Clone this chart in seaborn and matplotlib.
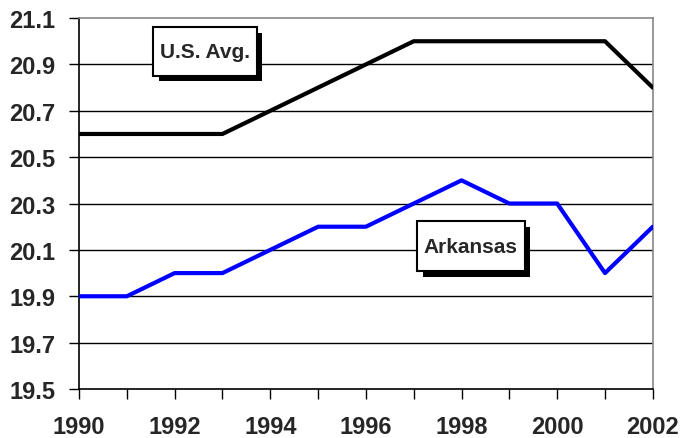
import seaborn as sns
import pandas as pd
import numpy as np
import matplotlib.pyplot as plt
import matplotlib.patheffects as pe
from matplotlib.patches import Rectangle

years = list(range(1990, 2003))
us_avg = [20.6, 20.6, 20.6, 20.6, 20.7, 20.8, 20.9, 21.0, 21.0, 21.0, 21.0, 21.0, 20.8]
arkansas = [19.9, 19.9, 20.0, 20.0, 20.1, 20.2, 20.2, 20.3, 20.4, 20.3, 20.3, 20.0, 20.2]
yticks = [19.5, 19.7, 19.9, 20.1, 20.3, 20.5, 20.7, 20.9, 21.1]

sns.set_style("white")
plt.rcParams['font.family'] = ['Liberation Sans', 'DejaVu Sans']

df = pd.DataFrame({'year': years + years,
                   'score': us_avg + arkansas,
                   'group': ['U.S. Avg.'] * len(years) + ['Arkansas'] * len(years)})

fig = plt.figure(figsize=(6.93, 4.39), dpi=100)
ax = fig.add_axes([0.114, 0.1116, 0.828, 0.845])

# gridlines first so the lines sit on top
for y in yticks[1:-1]:
    ax.axhline(y, color='black', lw=1.0, zorder=1)

sns.lineplot(data=df, x='year', y='score', hue='group',
             palette={'U.S. Avg.': 'black', 'Arkansas': '#0000ff'},
             lw=3.0, legend=False, ax=ax, zorder=3)

ax.set_xlim(1990, 2002)
ax.set_ylim(19.5, 21.1)
ax.set_xticks(years)
ax.set_xticklabels([str(y) if y % 2 == 0 else '' for y in years])
ax.set_yticks(yticks)
ax.set_yticklabels([f'{v:.1f}' for v in yticks])
ax.tick_params(axis='x', bottom=True, labelsize=17, direction='out', length=7, width=1,
               color='black', pad=12)
ax.tick_params(axis='y', left=True, labelsize=17, direction='out', length=7, width=1,
               color='black', pad=10)
for lab in ax.get_xticklabels() + ax.get_yticklabels():
    lab.set_fontweight('bold')
ax.set_xlabel('')
ax.set_ylabel('')

ax.spines['left'].set_color('black')
ax.spines['bottom'].set_color('black')
ax.spines['top'].set_color('#888888')
ax.spines['right'].set_color('#888888')
for s in ax.spines.values():
    s.set_linewidth(1.2)

# boxed labels with a drop shadow (axes-fraction boxes)
boxes = [('U.S. Avg.', 0.129, 0.844, 0.181, 0.132),
         ('Arkansas', 0.589, 0.318, 0.188, 0.135)]
for label, bx, by, bw, bh in boxes:
    r = Rectangle((bx, by), bw, bh, transform=ax.transAxes, fc='white', ec='black',
                  lw=1.5, zorder=5, clip_on=False)
    r.set_path_effects([pe.SimplePatchShadow(offset=(4, -4), shadow_rgbFace='black', alpha=1.0),
                        pe.Normal()])
    ax.add_patch(r)
    ax.text(bx + bw / 2, by + bh / 2, label, transform=ax.transAxes, fontsize=15,
            fontweight='bold', ha='center', va='center', zorder=6)

fig.savefig('out.png', dpi=100)
